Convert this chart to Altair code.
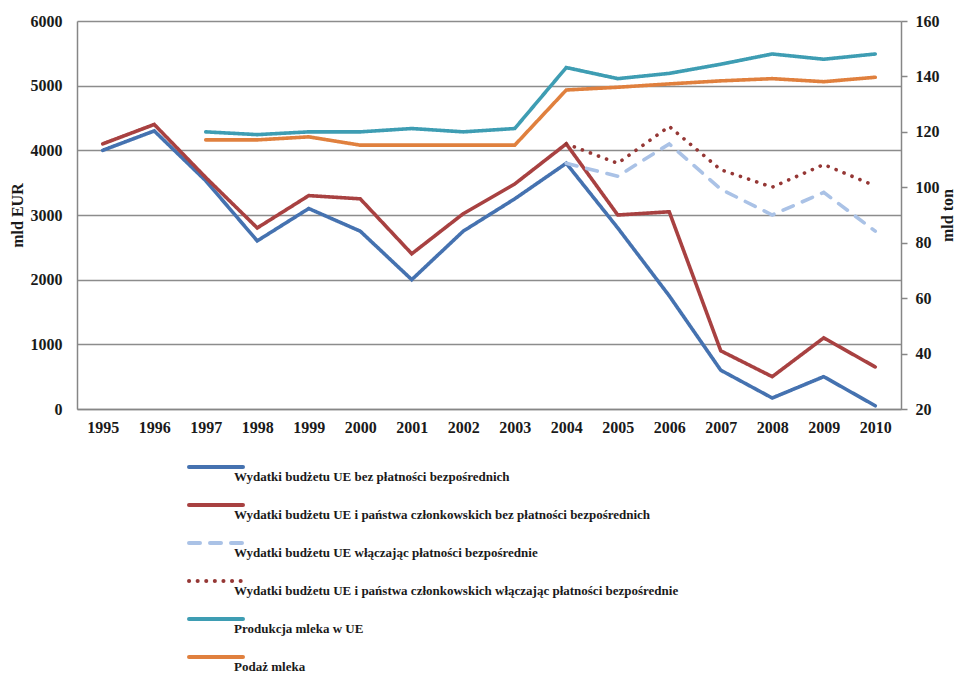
import altair as alt
import pandas as pd

years = list(range(1995, 2011))
blue = [4000, 4300, 3530, 2600, 3100, 2750, 2000, 2750, 3250, 3800, 2800, 1750, 600, 170, 500, 50]
red = [4100, 4400, 3580, 2800, 3300, 3250, 2400, 3020, 3480, 4100, 3000, 3050, 900, 500, 1100, 650]
years_inc = list(range(2004, 2011))
dashed = [3800, 3600, 4100, 3400, 3000, 3350, 2750]
dotted = [4100, 3800, 4370, 3700, 3430, 3780, 3450]
years_milk = list(range(1997, 2011))
teal = [120, 119, 120, 120, 121.2, 120, 121.2, 143.2, 139.2, 141.1, 144.4, 148.1, 146.2, 148.1]
orange = [117.1, 117.1, 118.2, 115.2, 115.2, 115.2, 115.2, 135.1, 136.1, 137.3, 138.4, 139.2, 138.1, 139.7]

names = [
    "Wydatki budżetu UE bez płatności bezpośrednich",
    "Wydatki budżetu UE i państwa członkowskich bez płatności bezpośrednich",
    "Wydatki budżetu UE włączając płatności bezpośrednie",
    "Wydatki budżetu UE i państwa członkowskich włączając płatności bezpośrednie",
    "Produkcja mleka w UE",
    "Podaż mleka",
]
colors = ["#4572B0", "#A84141", "#AAC2E6", "#953735", "#3E9DB3", "#E0803E"]
dashes = [[1, 0], [1, 0], [11, 10], [0.1, 8.5], [1, 0], [1, 0]]

rows_left = []
for name, ys, vals in [(names[0], years, blue), (names[1], years, red),
                       (names[2], years_inc, dashed), (names[3], years_inc, dotted)]:
    for y, v in zip(ys, vals):
        rows_left.append({"year": y, "value": v, "series": name})
rows_right = []
for name, ys, vals in [(names[4], years_milk, teal), (names[5], years_milk, orange)]:
    for y, v in zip(ys, vals):
        rows_right.append({"year": y, "value": v, "series": name})
df_left = pd.DataFrame(rows_left)
df_right = pd.DataFrame(rows_right)
df_leg = pd.DataFrame({"series": names, "idx": list(range(len(names)))})

FONT = "Liberation Serif"
TXT = "#1a1a1a"
color_scale = alt.Scale(domain=names, range=colors)
dash_scale = alt.Scale(domain=names, range=dashes)

x_enc = alt.X("year:Q", scale=alt.Scale(domain=[1994.5, 2010.5], nice=False),
              axis=alt.Axis(values=years, format="d", title=None, grid=False, ticks=False,
                            labelPadding=10, labelFontSize=16, labelFontWeight="bold",
                            labelFont=FONT, labelColor=TXT, domainColor="#868686",
                            domainWidth=1.5))

left = alt.Chart(df_left).mark_line(strokeWidth=3.6, strokeCap="round", strokeJoin="miter").encode(
    x=x_enc,
    y=alt.Y("value:Q", scale=alt.Scale(domain=[0, 6000], nice=False),
            axis=alt.Axis(values=[0, 1000, 2000, 3000, 4000, 5000, 6000], format="d",
                          title="mld EUR", orient="left", grid=True, gridColor="#8c8c8c",
                          gridWidth=1.3, ticks=False, labelPadding=15, labelFontSize=16,
                          labelFontWeight="bold", labelFont=FONT, labelColor=TXT,
                          titleFont=FONT, titleFontSize=16, titleFontWeight="bold",
                          titleColor=TXT, titleAngle=270, titleX=-60, titleY=194,
                          titleBaseline="middle", titleAlign="center",
                          domainColor="#868686", domainWidth=1.5)),
    color=alt.Color("series:N", scale=color_scale, legend=None),
    strokeDash=alt.StrokeDash("series:N", scale=dash_scale, legend=None),
    detail="series:N",
)

right = alt.Chart(df_right).mark_line(strokeWidth=3.6, strokeCap="round").encode(
    x=alt.X("year:Q"),
    y=alt.Y("value:Q", scale=alt.Scale(domain=[20, 160], nice=False),
            axis=alt.Axis(values=[20, 40, 60, 80, 100, 120, 140, 160], format="d",
                          title="mld ton", orient="right", grid=False, ticks=True, tickSize=6,
                          tickColor="#868686", tickWidth=1.5, labelPadding=8, labelFontSize=16,
                          labelFontWeight="bold", labelFont=FONT, labelColor=TXT,
                          titleFont=FONT, titleFontSize=16, titleFontWeight="bold",
                          titleColor=TXT, titleAngle=270, titleX=46, titleY=194,
                          titleBaseline="middle", titleAlign="center",
                          domainColor="#868686", domainWidth=1.5)),
    color=alt.Color("series:N", scale=color_scale, legend=None),
    strokeDash=alt.StrokeDash("series:N", scale=dash_scale, legend=None),
)

leg_y = alt.Y("idx:Q", scale=alt.Scale(domain=[0, 5], range=[446, 636]), axis=None)

leg_rules = alt.Chart(df_leg).mark_rule(strokeWidth=4, strokeCap="round").encode(
    x=alt.value(112), x2=alt.value(166), y=leg_y,
    color=alt.Color("series:N", scale=color_scale, legend=None),
    strokeDash=alt.StrokeDash("series:N", scale=dash_scale, legend=None),
)

leg_text = alt.Chart(df_leg).mark_text(align="left", baseline="middle", dy=9.5, font=FONT,
                                       fontSize=13, fontWeight="bold", color=TXT).encode(
    x=alt.value(157), y=leg_y, text="series:N",
)

chart = alt.layer(left, right, leg_rules, leg_text).resolve_scale(
    y="independent"
).properties(
    width=824, height=388,
    autosize=alt.AutoSizeParams(type="none"),
    padding={"left": 69, "top": 13, "right": 53, "bottom": 264},
).configure_view(stroke=None)

chart.save("out.html", embed_options={"renderer": "svg", "actions": False})
